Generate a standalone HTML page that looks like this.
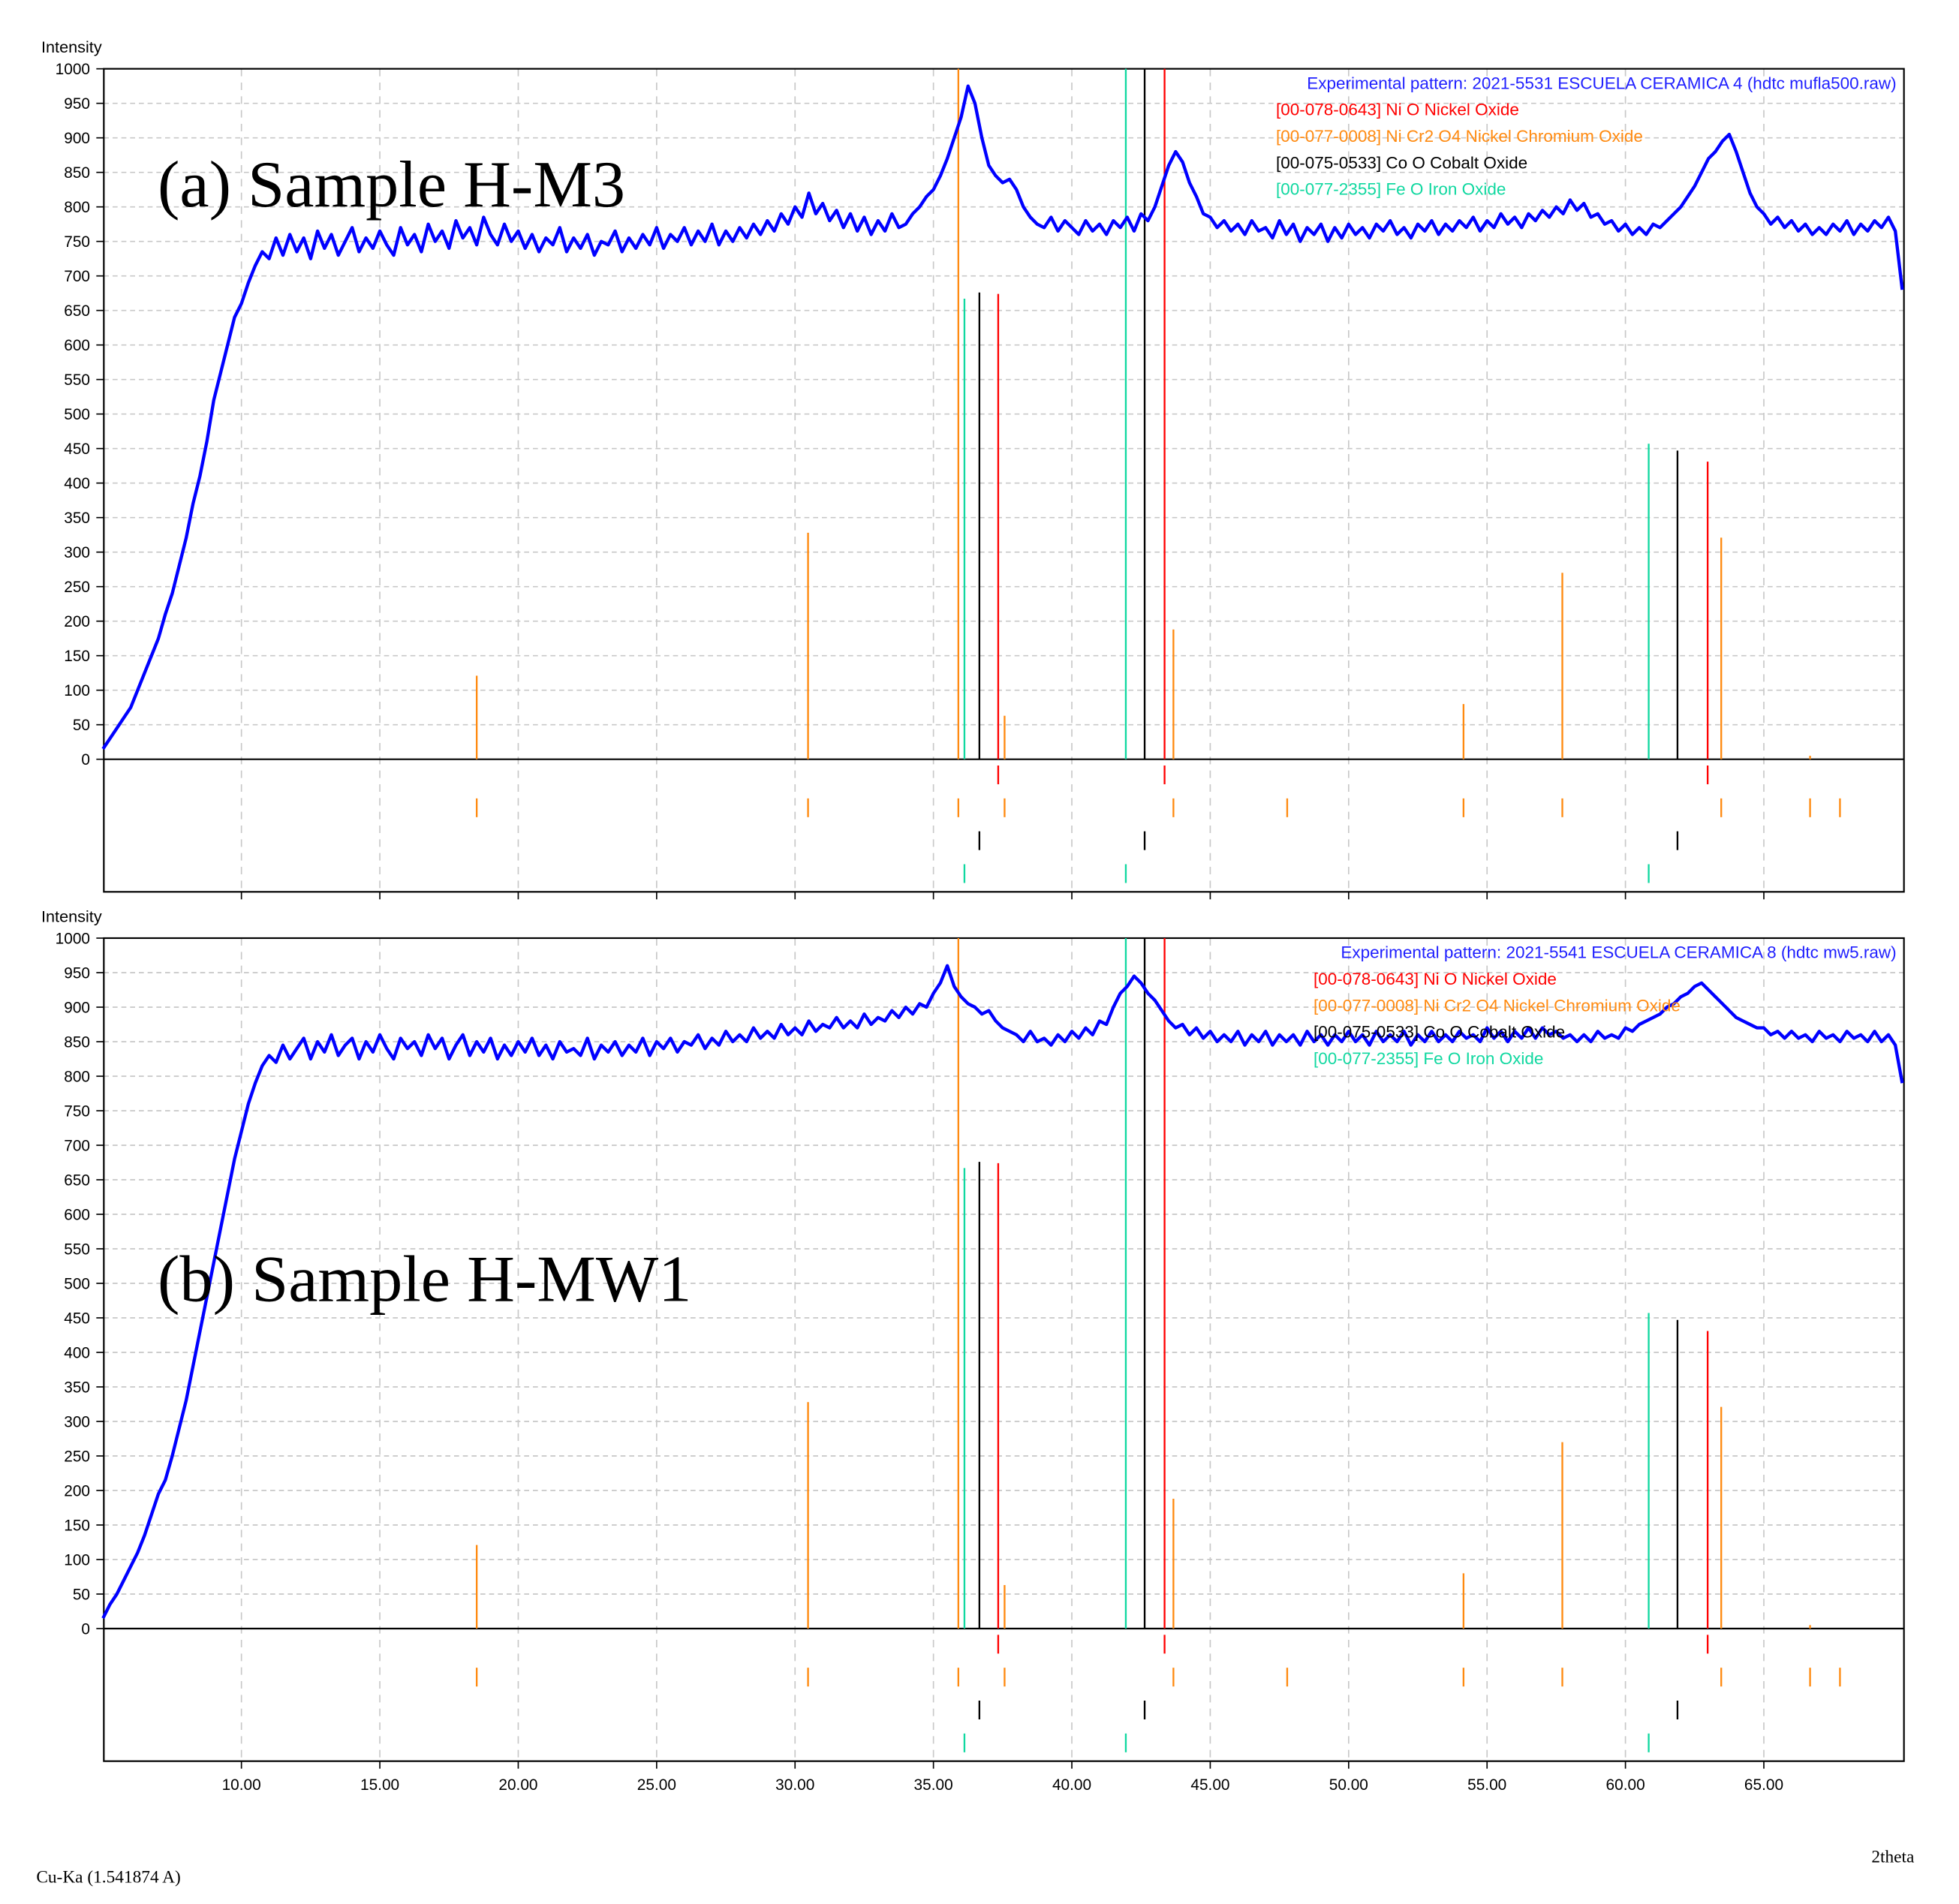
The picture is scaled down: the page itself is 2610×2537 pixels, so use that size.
<!DOCTYPE html>
<html><head><meta charset="utf-8"><style>
html,body{margin:0;padding:0;background:#fff;}
svg{display:block;}
text{font-family:"Liberation Sans","DejaVu Sans",sans-serif;}
</style></head>
<body>
<svg id="chart" width="2610" height="2537" viewBox="0 0 1566 1522.2" preserveAspectRatio="none" xmlns="http://www.w3.org/2000/svg">
<rect width="1566" height="1522.2" fill="#fff"/>
<g id="layer"></g>
<text x="126" y="165" font-size="53" fill="#000" style="font-family:'Liberation Serif',serif">(a) Sample H-M3</text>
<text x="126" y="1040" font-size="53" fill="#000" style="font-family:'Liberation Serif',serif">(b) Sample H-MW1</text>
<text x="1496" y="1489" font-size="14" style="font-family:'Liberation Serif',serif">2theta</text>
<text x="29" y="1505" font-size="14" style="font-family:'Liberation Serif',serif">Cu-Ka (1.541874 A)</text>
</svg>
<script>
const thetaStart = 5.0;
const thetaStep = 0.25;
const seriesA = [15,30,45,60,75,100,125,150,175,210,240,280,320,370,410,460,520,560,600,640,660,690,715,735,725,755,730,760,
735,755,725,765,740,760,730,750,770,735,755,740,765,745,730,770,745,760,735,775,750,765,740,780,755,770,745,785,760,745,775,750,
765,740,760,735,755,745,770,735,755,740,760,730,750,745,765,735,755,740,760,745,770,740,760,750,770,745,765,750,775,745,765,750,
770,755,775,760,780,765,790,775,800,785,820,790,805,780,795,770,790,765,785,760,780,765,790,770,775,790,800,815,825,845,870,900,
930,975,950,900,860,845,835,840,825,800,785,775,770,785,765,780,770,760,780,765,775,760,780,770,785,765,790,780,800,830,860,880,
865,835,815,790,785,770,780,765,775,760,780,765,770,755,780,760,775,750,770,760,775,750,770,755,775,760,770,755,775,765,780,760,
770,755,775,765,780,760,775,765,780,770,785,765,780,770,790,775,785,770,790,780,795,785,800,790,810,795,805,785,790,775,780,765,
775,760,770,760,775,770,780,790,800,815,830,850,870,880,895,905,880,850,820,800,790,775,785,770,780,765,775,760,770,760,775,765,
780,760,775,765,780,770,785,765,680];
const seriesB = [15,35,50,70,90,110,135,165,195,215,250,290,330,380,430,480,530,580,630,680,720,760,790,815,830,820,845,825,
840,855,825,850,835,860,830,845,855,825,850,835,860,840,825,855,840,850,830,860,840,855,825,845,860,830,850,835,855,825,845,830,
850,835,855,830,845,825,850,835,840,830,855,825,845,835,850,830,845,835,855,830,850,840,855,835,850,845,860,840,855,845,865,850,
860,850,870,855,865,855,875,860,870,860,880,865,875,870,885,870,880,870,890,875,885,880,895,885,900,890,905,900,920,935,960,930,
915,905,900,890,895,880,870,865,860,850,865,850,855,845,860,850,865,855,870,860,880,875,900,920,930,945,935,920,910,895,880,870,
875,860,870,855,865,850,860,850,865,845,860,850,865,845,860,850,860,845,865,850,860,845,860,850,865,850,860,845,865,850,860,850,
865,845,860,850,865,850,860,850,865,855,860,850,870,855,865,850,865,855,870,855,870,860,865,855,860,850,860,850,865,855,860,855,
870,865,875,880,885,890,900,905,915,920,930,935,925,915,905,895,885,880,875,870,870,860,865,855,865,855,860,850,865,855,860,850,
865,855,860,850,865,850,860,845,790];
const niOPeaks = [37.34, 43.35, 62.97];
const niOHeights = [674, 1000, 431];
const niCrPeaks = [18.5, 30.47, 35.9, 37.57, 43.67, 54.15, 57.72, 63.46, 66.67];
const niCrHeights = [121, 328, 1000, 63, 188, 80, 270, 321, 5];
const niCrMarkers = [18.5, 30.47, 35.9, 37.57, 43.67, 47.78, 54.15, 57.72, 63.46, 66.67, 67.75];
const coOPeaks = [36.66, 42.63, 61.88];
const coOHeights = [676, 1000, 447];
const feOPeaks = [36.12, 41.95, 60.84];
const feOHeights = [667, 1000, 457];
const xTicks = [10,15,20,25,30,35,40,45,50,55,60,65];
const yTicks = [0,50,100,150,200,250,300,350,400,450,500,550,600,650,700,750,800,850,900,950,1000];

const NS = "http://www.w3.org/2000/svg";
const layer = document.getElementById('layer');
const L = 83, R = 1522;
function xs(t){ return 193 + (t - 10) * (1217 / 55); }
function mk(tag, attrs, parent){ const e = document.createElementNS(NS, tag); for (const k in attrs) e.setAttribute(k, attrs[k]); (parent||layer).appendChild(e); return e; }

const panels = [
  {top:55, y0:607, bottom:713, data:seriesA, name:'a', legendX:1020, legendY:71, exp:'Experimental pattern: 2021-5531 ESCUELA CERAMICA 4 (hdtc mufla500.raw)'},
  {top:750, y0:1302, bottom:1408, data:seriesB, name:'b', legendX:1050, legendY:766, exp:'Experimental pattern: 2021-5541 ESCUELA CERAMICA 8 (hdtc mw5.raw)'}
];
const refs = [
  {peaks:niOPeaks, h:niOHeights, markers:niOPeaks, color:'#ff0000', row:0, name:'nio'},
  {peaks:niCrPeaks, h:niCrHeights, markers:niCrMarkers, color:'#ff8a10', row:1, name:'nicr2o4'},
  {peaks:coOPeaks, h:coOHeights, markers:coOPeaks, color:'#000000', row:2, name:'coo'},
  {peaks:feOPeaks, h:feOHeights, markers:feOPeaks, color:'#10d8a0', row:3, name:'feo'}
];

panels.forEach(p => {
  const ys = v => p.y0 - v * (p.y0 - p.top) / 1000;
  const g = mk('g', {});
  
  
  yTicks.forEach(v => {
    if (v > 0 && v < 1000) {
      const ln = mk('line', {x1:L, x2:R, y1:ys(v), y2:ys(v), stroke:'#c8c8c8', 'stroke-width':1, 'stroke-dasharray':'4,3'}, g);
      
      
    }
    const tk = mk('line', {x1:77, x2:L, y1:ys(v), y2:ys(v), stroke:'#000', 'stroke-width':1}, g);
    
    
    const tx = mk('text', {x:72, y:ys(v) + 4.5, 'text-anchor':'end', 'font-size':12.5, fill:'#000'}, g);
    
    
    tx.textContent = v;
  });
  xTicks.forEach(t => {
    const ln = mk('line', {x1:xs(t), x2:xs(t), y1:p.top, y2:p.bottom, stroke:'#c8c8c8', 'stroke-width':1, 'stroke-dasharray':'6,5'}, g);
    
    
    const tk = mk('line', {x1:xs(t), x2:xs(t), y1:p.bottom, y2:p.bottom + 6, stroke:'#000', 'stroke-width':1}, g);
    
    
  });
  const fr = mk('rect', {x:L, y:p.top, width:R - L, height:p.bottom - p.top, fill:'none', stroke:'#000', 'stroke-width':1.3}, g);
  
  
  const base = mk('line', {x1:L, x2:R, y1:p.y0, y2:p.y0, stroke:'#000', 'stroke-width':1.3}, g);
  
  
  const it = mk('text', {x:33, y:p.top - 13, 'font-size':13}, g);
  
  
  it.textContent = 'Intensity';
  refs.forEach(r => {
    r.peaks.forEach((t, i) => {
      const s = mk('line', {x1:xs(t), x2:xs(t), y1:p.y0, y2:ys(r.h[i]), stroke:r.color, 'stroke-width':1.4}, g);
      
      
    });
    const ry = p.y0 + 5 + r.row * 26.3;
    r.markers.forEach(t => {
      const m = mk('line', {x1:xs(t), x2:xs(t), y1:ry, y2:ry + 15, stroke:r.color, 'stroke-width':1.4}, g);
      
      
    });
  });
  const pts = p.data.map((v, i) => xs(thetaStart + i * thetaStep).toFixed(2) + ',' + ys(v).toFixed(2)).join(' ');
  const pl = mk('polyline', {points:pts, fill:'none', stroke:'#0000ff', 'stroke-width':2.6, 'stroke-linejoin':'round'}, g);
  
  
  const items = [[p.exp, '#2020ff'], ['[00-078-0643] Ni O Nickel Oxide', '#ff0000'], ['[00-077-0008] Ni Cr2 O4 Nickel Chromium Oxide', '#ff8a10'], ['[00-075-0533] Co O Cobalt Oxide', '#000'], ['[00-077-2355] Fe O Iron Oxide', '#10d8a0']];
  items.forEach((it2, i) => {
    const t = mk('text', {x: i === 0 ? 1516 : p.legendX, y:p.legendY + i * 21.2, 'font-size':13.5, fill:it2[1], 'text-anchor': i === 0 ? 'end' : 'start'}, g);
    
    
    t.textContent = it2[0];
  });
});
xTicks.forEach(t => {
  const tx = mk('text', {x:xs(t), y:1431, 'text-anchor':'middle', 'font-size':12.5});
  
  
  tx.textContent = t.toFixed(2);
});
</script>
</body></html>
